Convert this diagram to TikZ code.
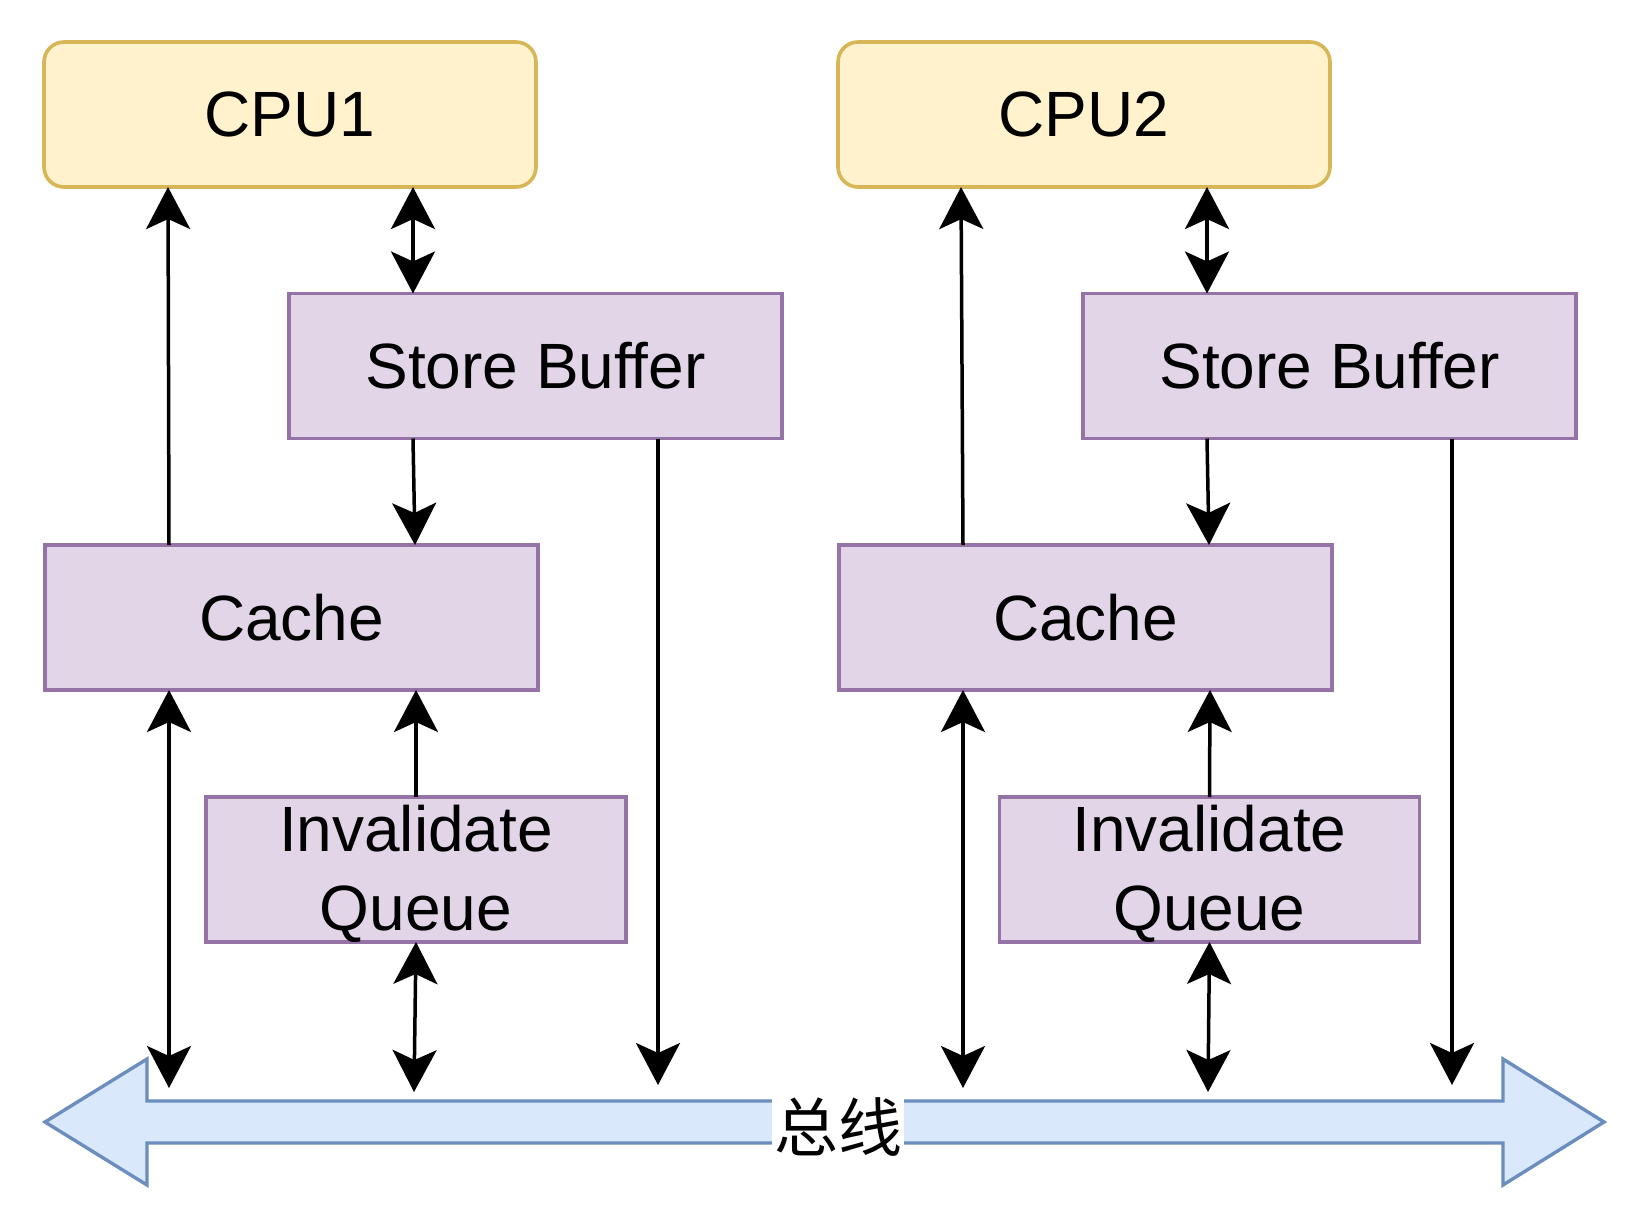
\documentclass[tikz,border=0pt]{standalone}
\usepackage{fontspec}
\setmainfont{Liberation Sans}
\newfontfamily\cjk{Noto Sans CJK SC}
\usetikzlibrary{arrows.meta}
\definecolor{cpufill}{HTML}{FFF2CC}
\definecolor{cpuline}{HTML}{D6B656}
\definecolor{pfill}{HTML}{E1D5E7}
\definecolor{pline}{HTML}{9673A6}
\definecolor{bfill}{HTML}{DAE8FC}
\definecolor{bline}{HTML}{6C8EBF}
\tikzset{
  cpubox/.style={draw=cpuline, fill=cpufill, line width=1.8pt, rounded corners=10pt,
    minimum width=246pt, minimum height=72.5pt, inner sep=0pt, outer sep=0pt,
    font=\fontsize{32pt}{39pt}\selectfont},
  pbox/.style={draw=pline, fill=pfill, line width=1.7pt,
    minimum width=246.5pt, minimum height=72.5pt, inner sep=0pt, outer sep=0pt,
    align=center, font=\fontsize{32pt}{39.5pt}\selectfont},
  ptext/.style={inner sep=0pt, align=center, font=\fontsize{32pt}{39.5pt}\selectfont},
  tip/.tip={Stealth[length=21pt,width=22pt,inset=5pt]},
  arr/.style={line width=1.75pt, -tip},
  dbl/.style={line width=1.75pt, tip-tip},
  busarrow/.style={draw=bline, fill=bfill, line width=1.7pt},
}
\begin{document}
\begin{tikzpicture}[x=0.5pt,y=-0.5pt]
\useasboundingbox (0,0) rectangle (1644,1228);
% bus
\draw[busarrow] (45,1122) -- (147,1059) -- (147,1101) -- (1503,1101) -- (1503,1059)
  -- (1604,1122) -- (1503,1185) -- (1503,1143) -- (147,1143) -- (147,1185) -- cycle;
\node[fill=white, inner sep=1pt, font=\cjk\fontsize{32pt}{36pt}\selectfont] (bus) at (838,1127) {总线};
% nodes
\node[cpubox] (cpu1) at (290,114.5) {CPU1};
\node[cpubox] (cpu2) at (1084,114.5) {CPU2};
\node[pbox] (sb1) at (535.5,366) {Store Buffer};
\node[pbox] (sb2) at (1329.5,366) {Store Buffer};
\node[pbox] (cache1) at (291.5,617.5) {Cache};
\node[pbox] (cache2) at (1085.5,617.5) {Cache};
\node[pbox, minimum width=210pt] (iq1) at (416,869.5) {};
\node[pbox, minimum width=210pt] (iq2) at (1209.5,869.5) {};
\node[ptext] (iqt1) at (416,874) {Invalidate\\Queue};
\node[ptext] (iqt2) at (1209.5,874) {Invalidate\\Queue};
% free ends on the bus
\coordinate (sbbus1) at (658,1085);
\coordinate (cbus1) at (169,1088);
\coordinate (qbus1) at (414,1092);
\coordinate (sbbus2) at (1452,1085);
\coordinate (cbus2) at (963,1088);
\coordinate (qbus2) at (1208,1092);
% connectors CPU1 side
\draw[arr] ([xshift=62pt]cache1.north west) -- ([xshift=62pt]cpu1.south west);
\draw[dbl] ([xshift=184.5pt]cpu1.south west) -- ([xshift=62pt]sb1.north west);
\draw[arr] ([xshift=62pt]sb1.south west) -- ([xshift=185pt]cache1.north west);
\draw[arr] ([xshift=184.5pt]sb1.south west) -- (sbbus1);
\draw[dbl] ([xshift=62pt]cache1.south west) -- (cbus1);
\draw[arr] (iq1.north) -- ([xshift=185.5pt]cache1.south west);
\draw[dbl] (iq1.south) -- (qbus1);
% connectors CPU2 side
\draw[arr] ([xshift=62pt]cache2.north west) -- ([xshift=61.5pt]cpu2.south west);
\draw[dbl] ([xshift=184.5pt]cpu2.south west) -- ([xshift=62pt]sb2.north west);
\draw[arr] ([xshift=62pt]sb2.south west) -- ([xshift=185pt]cache2.north west);
\draw[arr] ([xshift=184.5pt]sb2.south west) -- (sbbus2);
\draw[dbl] ([xshift=62pt]cache2.south west) -- (cbus2);
\draw[arr] (iq2.north) -- ([xshift=185.5pt]cache2.south west);
\draw[dbl] (iq2.south) -- (qbus2);
\end{tikzpicture}
\end{document}
